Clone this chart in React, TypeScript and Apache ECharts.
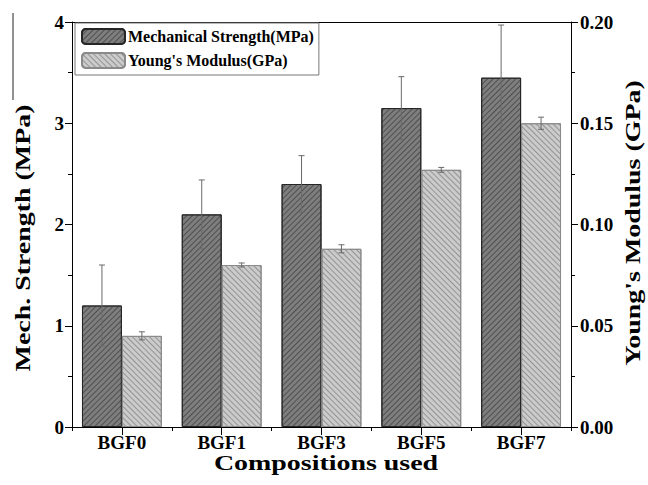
import React, { useEffect, useRef } from "react";
import * as echarts from "echarts";

const categories = ["BGF0", "BGF1", "BGF3", "BGF5", "BGF7"];
const strength = [1.2, 2.1, 2.4, 3.15, 3.45];
const strengthErr = [0.4, 0.34, 0.28, 0.31, 0.52];
const modulus = [0.045, 0.08, 0.088, 0.127, 0.15];
const modulusErr = [0.002, 0.001, 0.002, 0.0012, 0.003];
const leftTicks = { min: 0, max: 4, interval: 1 };
const rightTicks = { min: 0, max: 0.2, interval: 0.05 };
const xTitle = "Compositions used";
const leftTitle = "Mech. Strength (MPa)";
const rightTitle = "Young's Modulus (GPa)";

const FONT = "'Liberation Serif', 'Times New Roman', serif";

function errorRenderer(sign: number) {
  return (params: any, api: any) => {
    const idx = api.value(0);
    const val = api.value(1);
    const err = api.value(2);
    const catW = api.size([1, 0])[0];
    const off = sign * catW * 0.2;
    const top = api.coord([idx, val + err]);
    const bot = api.coord([idx, val - err]);
    const x = top[0] + off;
    const cap = 3;
    const style = { stroke: "#6a6a6a", lineWidth: 1 };
    return {
      type: "group",
      children: [
        { type: "line", shape: { x1: x, y1: top[1], x2: x, y2: bot[1] }, style },
        { type: "line", shape: { x1: x - cap, y1: top[1], x2: x + cap, y2: top[1] }, style },
        { type: "line", shape: { x1: x - cap, y1: bot[1], x2: x + cap, y2: bot[1] }, style },
      ],
    };
  };
}

export default function App() {
  const ref = useRef<HTMLDivElement>(null);
  useEffect(() => {
    if (!ref.current) return;
    const chart = echarts.init(ref.current, undefined, { renderer: "svg" });
    const axisLabel = { color: "#000", fontFamily: FONT, fontWeight: "bold", fontSize: 19 };
    const titleStyle = {
      fill: "#000",
      font: `bold 22px ${FONT}`,
      align: "center",
      verticalAlign: "middle",
    };
    chart.setOption({
      animation: false,
      backgroundColor: "#fff",
      grid: { left: 72, right: 77, top: 22, bottom: 58 },
      legend: {
        orient: "vertical",
        left: 75,
        top: 23,
        padding: [5, 5, 6, 6],
        itemWidth: 43,
        itemHeight: 15,
        itemGap: 7,
        borderColor: "#777",
        borderWidth: 1,
        backgroundColor: "#fff",
        textStyle: { color: "#000", fontFamily: FONT, fontWeight: "bold", fontSize: 16, padding: [0, 0, 0, -2] },
        data: ["Mechanical Strength(MPa)", "Young's Modulus(GPa)"],
      },
      xAxis: [
        {
          type: "category",
          data: categories,
          position: "bottom",
          axisLine: { lineStyle: { color: "#000", width: 1 } },
          axisTick: { show: true, length: 4, lineStyle: { color: "#000" } },
          axisLabel: { ...axisLabel, margin: 6 },
        },
        {
          type: "category",
          data: categories,
          position: "bottom",
          axisLine: { show: false },
          axisTick: { show: true, alignWithLabel: true, length: 8, lineStyle: { color: "#000" } },
          axisLabel: { show: false },
        },
        {
          type: "category",
          data: categories,
          position: "top",
          axisLine: { show: true, lineStyle: { color: "#000", width: 1 } },
          axisTick: { show: false },
          axisLabel: { show: false },
        },
      ],
      yAxis: [
        {
          type: "value",
          ...leftTicks,
          position: "left",
          axisLine: { show: true, lineStyle: { color: "#000" } },
          axisTick: { show: true, length: 7, lineStyle: { color: "#000" } },
          minorTick: { show: true, splitNumber: 2, length: 4, lineStyle: { color: "#000" } },
          splitLine: { show: false },
          axisLabel: { ...axisLabel, margin: 8 },
        },
        {
          type: "value",
          ...rightTicks,
          position: "right",
          axisLine: { show: true, lineStyle: { color: "#000" } },
          axisTick: { show: true, length: 7, lineStyle: { color: "#000" } },
          minorTick: { show: true, splitNumber: 2, length: 4, lineStyle: { color: "#000" } },
          splitLine: { show: false },
          axisLabel: { ...axisLabel, margin: 9, formatter: (v: number) => v.toFixed(2) },
        },
      ],
      graphic: [
        { type: "line", shape: { x1: 13, y1: 13, x2: 13, y2: 100 }, style: { stroke: "#222", lineWidth: 1 } },
        {
          type: "text",
          x: 326,
          y: 463,
          scaleX: 1.27,
          style: { ...titleStyle, text: xTitle },
        },
        {
          type: "text",
          x: 23,
          y: 238,
          rotation: Math.PI / 2,
          scaleX: 1.27,
          style: { ...titleStyle, text: leftTitle },
        },
        {
          type: "text",
          x: 633,
          y: 223,
          rotation: Math.PI / 2,
          scaleX: 1.27,
          style: { ...titleStyle, text: rightTitle },
        },
      ],
      series: [
        {
          name: "Mechanical Strength(MPa)",
          type: "bar",
          xAxisIndex: 0,
          yAxisIndex: 0,
          data: strength,
          barGap: "0%",
          barCategoryGap: "20%",
          itemStyle: {
            color: "#7e7e7e",
            borderColor: "#262626",
            borderWidth: 1,
            decal: {
              symbol: "rect",
              color: "rgba(40,40,40,0.55)",
              dashArrayX: [1, 0],
              dashArrayY: [1, 3],
              rotation: -Math.PI / 4,
            },
          },
          z: 2,
        },
        {
          name: "Young's Modulus(GPa)",
          type: "bar",
          xAxisIndex: 0,
          yAxisIndex: 1,
          data: modulus,
          barGap: "0%",
          barCategoryGap: "20%",
          itemStyle: {
            color: "#cbcbcb",
            borderColor: "#8a8a8a",
            borderWidth: 1,
            decal: {
              symbol: "rect",
              color: "rgba(110,110,110,0.6)",
              dashArrayX: [1, 0],
              dashArrayY: [1, 3],
              rotation: Math.PI / 4,
            },
          },
          z: 2,
        },
        {
          name: "strengthErr",
          type: "custom",
          xAxisIndex: 0,
          yAxisIndex: 0,
          renderItem: errorRenderer(-1),
          data: categories.map((c, i) => [i, strength[i], strengthErr[i]]),
          encode: { x: 0, y: 1 },
          z: 5,
          silent: true,
        },
        {
          name: "modulusErr",
          type: "custom",
          xAxisIndex: 0,
          yAxisIndex: 1,
          renderItem: errorRenderer(1),
          data: categories.map((c, i) => [i, modulus[i], modulusErr[i]]),
          encode: { x: 0, y: 1 },
          z: 5,
          silent: true,
        },
      ],
    });
    return () => chart.dispose();
  }, []);
  return <div ref={ref} style={{ width: 648, height: 485, position: "absolute", left: 0, top: 0 }} />;
}
